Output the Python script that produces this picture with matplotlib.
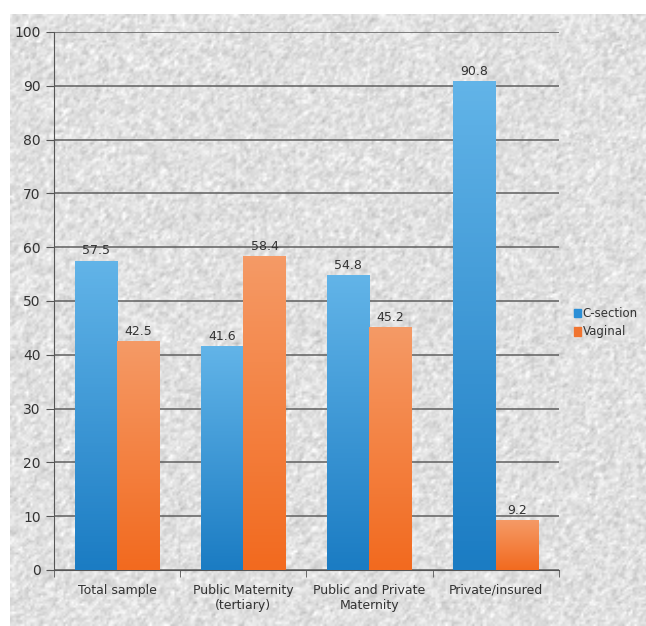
import numpy as np
import matplotlib.pyplot as plt
from matplotlib.colors import LinearSegmentedColormap

# data
categories = ["Total sample", "Public Maternity\n(tertiary)",
              "Public and Private\nMaternity", "Private/insured"]
csection = [57.5, 41.6, 54.8, 90.8]
vaginal = [42.5, 58.4, 45.2, 9.2]
series_names = ["C-section", "Vaginal"]

fig = plt.figure(figsize=(6.46, 6.26), dpi=100)

# grainy grey background (decoration only)
bg = fig.add_axes([0.015, 0, 0.985, 0.977])
rng = np.random.default_rng(3)
tex = rng.normal(0.88, 0.07, (300, 310))
tex = (tex + np.roll(tex, 1, 0) + np.roll(tex, 1, 1)) / 3
bg.imshow(tex, cmap="gray", vmin=0, vmax=1, aspect="auto", interpolation="bilinear")
bg.axis("off")

ax = fig.add_axes([0.0836, 0.0895, 0.7814, 0.8595])
ax.patch.set_alpha(0)

x = np.arange(len(categories))
w = 0.335
blue_cmap = LinearSegmentedColormap.from_list("b", ["#1b7cc3", "#62b4e8"])
orange_cmap = LinearSegmentedColormap.from_list("o", ["#f26a1f", "#f59a66"])

def grad_bars(xs, vals, cmap, color):
    bars = ax.bar(xs, vals, w, color=color, zorder=2)
    for b in bars:
        grad = np.linspace(0, 1, 100).reshape(-1, 1)
        x0 = b.get_x()
        im = ax.imshow(grad, cmap=cmap, origin="lower", aspect="auto",
                       extent=[x0, x0 + b.get_width(), 0, b.get_height()], zorder=3)
        im.set_clip_path(b)
        ax.text(x0 + b.get_width() / 2, b.get_height() + 0.6, f"{b.get_height():.1f}",
                ha="center", va="bottom", fontsize=9, color="#333333", zorder=4)
    return bars

grad_bars(x - w / 2, csection, blue_cmap, "#3b9ad8")
grad_bars(x + w / 2, vaginal, orange_cmap, "#f07b3a")

ax.set_xlim(-0.5, 3.5)
ax.set_ylim(0, 100)
ax.set_yticks(range(0, 101, 10))
ax.yaxis.grid(True, color="#5f5f5f", linewidth=1.1, zorder=1)
ax.set_axisbelow(True)

ax.set_xticks(x)
ax.set_xticklabels(categories, fontsize=9, color="#333333")
ax.set_xticks(np.arange(-0.5, 4, 1), minor=True)
ax.tick_params(axis="x", which="major", length=0, pad=10)
ax.tick_params(axis="x", which="minor", length=5, color="#555555")
ax.tick_params(axis="y", length=6, color="#555555", labelsize=10, labelcolor="#333333")

for s in ["top", "right"]:
    ax.spines[s].set_visible(False)
for s in ["left", "bottom"]:
    ax.spines[s].set_color("#555555")

# legend
fig.patches.append(plt.Rectangle((0.888, 0.493), 0.011, 0.013, color="#2b8fd6",
                                 transform=fig.transFigure))
fig.patches.append(plt.Rectangle((0.888, 0.464), 0.011, 0.013, color="#f07430",
                                 transform=fig.transFigure))
fig.text(0.902, 0.4995, series_names[0], fontsize=8.5, color="#333333", va="center")
fig.text(0.902, 0.4705, series_names[1], fontsize=8.5, color="#333333", va="center")

fig.savefig("out.png", dpi=100)
